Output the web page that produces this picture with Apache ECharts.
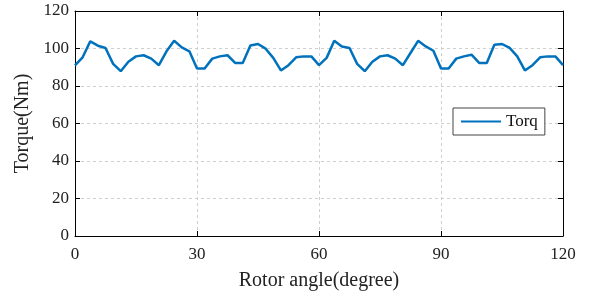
<!DOCTYPE html>
<html>
<head>
<meta charset="utf-8">
<script src="https://cdn.jsdelivr.net/npm/echarts@6/dist/echarts.min.js"></script>
<style>
  html, body { margin: 0; padding: 0; background: #fff; }
  #chart { width: 595px; height: 296px; }
</style>
</head>
<body>
<div id="chart"></div>
<script>
// rotor angle (degree)
const angles = [
  0, 1.875, 3.75, 5.625, 7.5, 9.375, 11.25, 13.125, 15, 16.875,
  18.75, 20.625, 22.5, 24.375, 26.25, 28.125, 30, 31.875, 33.75, 35.625,
  37.5, 39.375, 41.25, 43.125, 45, 46.875, 48.75, 50.625, 52.5, 54.375,
  56.25, 58.125, 60, 61.875, 63.75, 65.625, 67.5, 69.375, 71.25, 73.125,
  75, 76.875, 78.75, 80.625, 82.5, 84.375, 86.25, 88.125, 90, 91.875,
  93.75, 95.625, 97.5, 99.375, 101.25, 103.125, 105, 106.875, 108.75, 110.625,
  112.5, 114.375, 116.25, 118.125, 120
];
// torque (Nm)
const torque = [
  91, 95.3, 103.8, 101.5, 100.3, 91.8, 87.9, 92.9, 95.8, 96.4,
  94.6, 91.1, 98.5, 104.1, 100.6, 98.5, 89.3, 89.3, 94.6, 95.8,
  96.4, 92.3, 92.3, 101.6, 102.4, 99.9, 95, 88.3, 91.1, 95.3,
  95.8, 95.8, 91.1, 95, 104.1, 101.1, 100.3, 91.8, 87.9, 92.9,
  95.8, 96.4, 94.6, 91.1, 97.6, 104.1, 101.1, 98.8, 89.3, 89.3,
  94.6, 95.8, 96.7, 92.3, 92.3, 102, 102.4, 100.3, 95.8, 88.3,
  91.1, 95.3, 95.8, 95.8, 91.1
];

const chart = echarts.init(document.getElementById("chart"));
const font = "Liberation Serif";

// top / right axes just close the box
const boxAxis = {
  axisLine: { show: true, onZero: false, lineStyle: { color: "#000", width: 1 } },
  axisTick: { show: true, inside: true, length: 5, lineStyle: { color: "#000" } },
  axisLabel: { show: false },
  splitLine: { show: false },
};

chart.setOption({
  animation: false,
  backgroundColor: "#fff",
  grid: { left: 75, right: 32, top: 11, bottom: 58 },
  legend: {
    data: ["Torq"],
    left: 453,
    top: 108,
    backgroundColor: "#fff",
    borderColor: "#444",
    borderWidth: 1,
    borderRadius: 0,
    padding: [5, 7, 5, 8],
    itemWidth: 40,
    itemHeight: 14,
    itemGap: 4,
    icon: "path://M0,6 L40,6 L40,8 L0,8 Z",
    textStyle: { fontFamily: font, fontSize: 17, color: "#111" },
  },
  xAxis: [
    {
      type: "value",
      min: 0, max: 120, interval: 30,
      name: "Rotor angle(degree)",
      nameLocation: "middle",
      nameGap: 35,
      nameTextStyle: { fontFamily: font, fontSize: 20, color: "#222" },
      axisLine: { onZero: false, lineStyle: { color: "#000" } },
      axisTick: { inside: true, length: 5, lineStyle: { color: "#000" } },
      axisLabel: { fontFamily: font, fontSize: 17, color: "#222", margin: 10 },
      splitLine: { show: true, lineStyle: { color: "#cfcfcf", type: [3, 3] } },
    },
    Object.assign({ type: "value", position: "top", min: 0, max: 120, interval: 30 }, boxAxis),
  ],
  yAxis: [
    {
      type: "value",
      min: 0, max: 120, interval: 20,
      name: "Torque(Nm)",
      nameLocation: "middle",
      nameGap: 38,
      nameTextStyle: { fontFamily: font, fontSize: 20, color: "#222" },
      axisLine: { show: true, lineStyle: { color: "#000" } },
      axisTick: { show: true, inside: true, length: 5, lineStyle: { color: "#000" } },
      axisLabel: { fontFamily: font, fontSize: 17, color: "#222", margin: 6 },
      splitLine: { show: true, lineStyle: { color: "#cfcfcf", type: [3, 3] } },
    },
    Object.assign({ type: "value", position: "right", min: 0, max: 120, interval: 20 }, boxAxis),
  ],
  series: [
    {
      name: "Torq",
      type: "line",
      data: angles.map((a, i) => [a, torque[i]]),
      showSymbol: false,
      lineStyle: { color: "#0072BD", width: 2.5 },
      itemStyle: { color: "#0072BD" },
    },
  ],
});
</script>
</body>
</html>
